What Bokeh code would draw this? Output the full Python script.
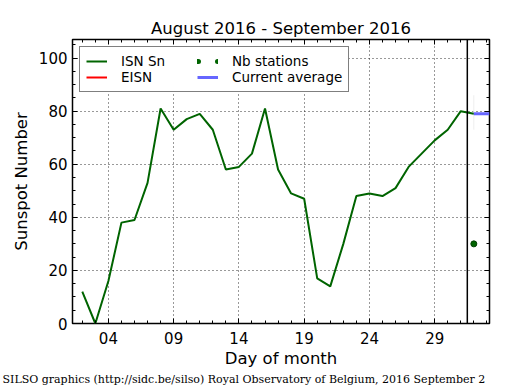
from bokeh.plotting import figure
from bokeh.models import (FixedTicker, LinearAxis, Legend, LegendItem,
                          Span, Title, Range1d)
from bokeh.embed import file_html
from bokeh.resources import INLINE

# ---- data ----
days = list(range(2, 33))
isn = [12, 0, 16, 38, 39, 53, 81, 73, 77, 79, 73, 58, 59, 64, 81, 58, 49, 47,
       17, 14, 30, 48, 49, 48, 51, 59, 64, 69, 73, 80, 79]
nb_days = [32]
nb_stations = [30]
avg_start_day = 32
avg_value = 79
err_day = [32]
err_low = [73]
err_high = [86]
separator_day = 31.5
x_tick_values = [4, 9, 14, 19, 24, 29]
x_tick_labels = ["04", "09", "14", "19", "24", "29"]
y_tick_values = [0, 20, 40, 60, 80, 100]
x_min, x_max = 1.25, 33.2
y_min, y_max = 0, 107
NAN = float("nan")

FONT = "DejaVu Sans"
GREEN = "#006400"

p = figure(frame_width=417, frame_height=284, output_backend="svg", toolbar_location=None,
           x_range=Range1d(x_min, x_max), y_range=Range1d(y_min, y_max),
           min_border_left=72, min_border_right=25, min_border_top=39, min_border_bottom=66)

p.title.text = "August 2016 - September 2016"
p.title.align = "center"
p.title.text_font = FONT
p.title.text_font_size = "16.5px"
p.title.text_font_style = "normal"
p.title.text_color = "black"
p.title.standoff = 4

p.outline_line_color = "black"
p.outline_line_width = 1.5
p.background_fill_color = "white"
p.border_fill_color = "white"

xt = FixedTicker(ticks=x_tick_values, minor_ticks=list(range(1, 34)))
yt = FixedTicker(ticks=y_tick_values, minor_ticks=list(range(0, 110, 5)))

def style_axis(ax, labels=True):
    ax.major_tick_in = 5
    ax.major_tick_out = 0
    ax.minor_tick_in = 3
    ax.minor_tick_out = 0
    ax.axis_line_color = None
    ax.major_tick_line_color = "black"
    ax.minor_tick_line_color = "black"
    ax.major_label_text_font = FONT
    ax.major_label_text_font_size = "15px"
    ax.major_label_text_color = "black"
    ax.axis_label_text_font = FONT
    ax.axis_label_text_font_size = "16.5px"
    ax.axis_label_text_font_style = "normal"
    ax.axis_label_text_color = "black"
    if not labels:
        ax.major_label_text_font_size = "0px"
        ax.major_label_text_alpha = 0

p.xaxis.ticker = xt
p.xaxis.major_label_overrides = {v: l for v, l in zip(x_tick_values, x_tick_labels)}
p.xaxis.axis_label = "Day of month"
p.yaxis.ticker = yt
p.yaxis.axis_label = "Sunspot Number"
style_axis(p.xaxis[0])
style_axis(p.yaxis[0])
p.xaxis.major_label_standoff = 8
p.xaxis.axis_label_standoff = 2
p.yaxis.major_label_standoff = 5
p.yaxis.axis_label_standoff = 5

top = LinearAxis(ticker=xt)
right = LinearAxis(ticker=yt)
style_axis(top, labels=False)
style_axis(right, labels=False)
top.major_label_standoff = 0
right.major_label_standoff = 0
p.add_layout(top, "above")
p.add_layout(right, "right")

for g in (p.xgrid, p.ygrid):
    g.grid_line_color = "black"
    g.grid_line_dash = "1 3"
    g.grid_line_width = 1
    g.grid_line_alpha = 0.8
p.xgrid.ticker = xt
p.ygrid.ticker = yt

# faint error bar
p.segment(x0=err_day, y0=err_low, x1=err_day, y1=err_high, line_color="#eeeeee", line_width=1)

r_isn = p.line(days, isn, line_color=GREEN, line_width=2)
r_eisn = p.line(x=[NAN], y=[NAN], line_color="red", line_width=2)
r_avg = p.line([avg_start_day, x_max], [avg_value, avg_value], line_color="#6666ff", line_width=3)
p.scatter(nb_days, nb_stations, size=6, fill_color=GREEN, line_color="#004000")
r_nb_leg = p.line(x=[NAN], y=[NAN], line_color=GREEN, line_width=5, line_cap="round", line_dash="1 19")

p.add_layout(Span(location=separator_day, dimension="height", line_color="black", line_width=1.5))

legend = Legend(items=[
    LegendItem(label="ISN Sn", renderers=[r_isn]),
    LegendItem(label="EISN", renderers=[r_eisn]),
    LegendItem(label="Nb stations", renderers=[r_nb_leg]),
    LegendItem(label="Current average", renderers=[r_avg]),
], ncols=2, location="top_left")
legend.margin = 7
legend.padding = 6
legend.spacing = 0
legend.glyph_width = 21
legend.glyph_height = 14
legend.label_height = 14
legend.label_width = 76
legend.label_standoff = 14
legend.label_text_font = FONT
legend.label_text_font_size = "13.5px"
legend.label_text_color = "black"
legend.border_line_color = "black"
legend.border_line_width = 1
legend.background_fill_alpha = 1
p.add_layout(legend, "center")

footer = Title(text="SILSO graphics (http://sidc.be/silso) Royal Observatory of Belgium, 2016 September 2",
               align="left", text_font="DejaVu Serif", text_font_size="11px",
               text_font_style="normal", text_color="black", offset=-70, standoff=0)
p.add_layout(footer, "below")

open("out.html", "w").write(file_html(p, INLINE))
